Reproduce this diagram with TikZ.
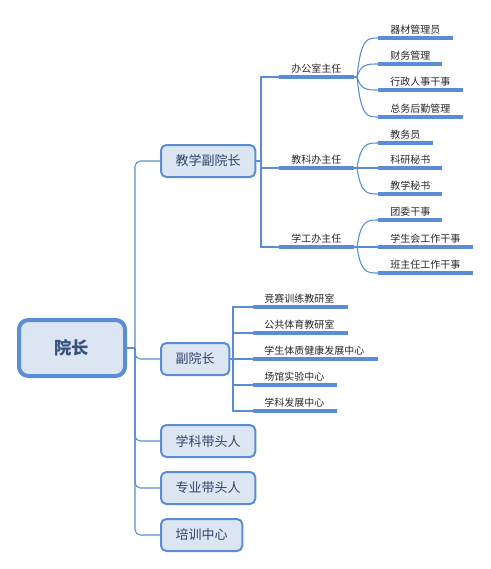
\documentclass[tikz,border=0pt]{standalone}
\usepackage{fontspec}
\setmainfont{Noto Sans CJK SC}
\usetikzlibrary{positioning}
\definecolor{mapblue}{HTML}{5A8DD6}
\definecolor{mapfill}{HTML}{DCE6F2}
\definecolor{maptext}{HTML}{2F4468}

\tikzset{
  rootbox/.style={draw=mapblue, fill=mapfill, line width=3pt, rounded corners=7pt,
    minimum width=79.5pt, minimum height=42pt, text=maptext!80!mapblue,
    font=\fontsize{13}{15}\selectfont\bfseries},
  mainbox/.style={draw=mapblue, fill=mapfill, line width=1.5pt, rounded corners=4pt,
    anchor=west, inner xsep=11pt, minimum height=24pt, text=maptext,
    font=\fontsize{9.75}{11}\selectfont},
  link/.style={draw=mapblue, line width=0.8pt},
  uline/.style={draw=mapblue, line width=2.3pt},
  leaf/.style={anchor=base west, inner sep=0pt, text=black!85,
    font=\fontsize{7.5}{9}\selectfont}
}

\begin{document}
\begin{tikzpicture}[x=0.75pt,y=-0.75pt]
  \useasboundingbox (0,0) rectangle (491,569);

  % root and first level
  \node[rootbox] (root) at (72,348) {院长};
  \node[mainbox] (vpteach) at (160,161) {教学副院长};
  \node[mainbox] (vp) at (160,359) {副院长};
  \node[mainbox] (subject) at (160,441) {学科带头人};
  \node[mainbox] (major) at (160,488) {专业带头人};
  \node[mainbox] (train) at (160,535) {培训中心};

  \coordinate (trunk) at (135,348);
  \draw[link] (root.east) -- (trunk);
  \foreach \n in {vpteach,vp,subject,major,train}
    \draw[link, rounded corners=4pt] (trunk) |- (\n.west);

  % offices under the teaching vice dean
  \coordinate (tfork) at (261,161);
  \draw[link] (vpteach.east) -- (tfork);
  \foreach \n/\y/\txt in {office/77/办公室主任, teachoff/168/教科办主任, stuoff/247/学工办主任} {
    \coordinate (\n-s) at (279,\y);
    \coordinate (\n-e) at (354,\y);
    \draw[link] (tfork) |- (\n-s);
    \draw[uline] (\n-s) -- (\n-e);
    \node[leaf] (\n) at (291,{\y-5}) {\txt};
  }

  % staff under each office
  \foreach \p/\y/\e/\txt [count=\i] in {office/38/453/器材管理员, office/64/442/财务管理,
      office/90/463/行政人事干事, office/117/463/总务后勤管理,
      teachoff/143/433/教务员, teachoff/168/442/科研秘书, teachoff/194/442/教学秘书,
      stuoff/220/442/团委干事, stuoff/247/473/学生会工作干事, stuoff/273/473/班主任工作干事} {
    \coordinate (staff\i-s) at (378,\y);
    \coordinate (staff\i-e) at (\e,\y);
    \draw[link] (\p-e) -- ++(3,0) .. controls (361,\y) and (367,\y) .. (staff\i-s);
    \draw[uline] (staff\i-s) -- (staff\i-e);
    \node[leaf] (staff\i) at (390,{\y-5}) {\txt};
  }

  % centres under the vice dean
  \coordinate (vfork) at (233,359);
  \draw[link] (vp.east) -- (vfork);
  \foreach \y/\e/\txt [count=\i] in {307/348/竞赛训练教研室, 333/348/公共体育教研室,
      359/378/学生体质健康发展中心, 385/337/场馆实验中心, 411/337/学科发展中心} {
    \coordinate (centre\i-s) at (253,\y);
    \coordinate (centre\i-e) at (\e,\y);
    \draw[link] (vfork) |- (centre\i-s);
    \draw[uline] (centre\i-s) -- (centre\i-e);
    \node[leaf] (centre\i) at (264,{\y-5}) {\txt};
  }
\end{tikzpicture}
\end{document}
